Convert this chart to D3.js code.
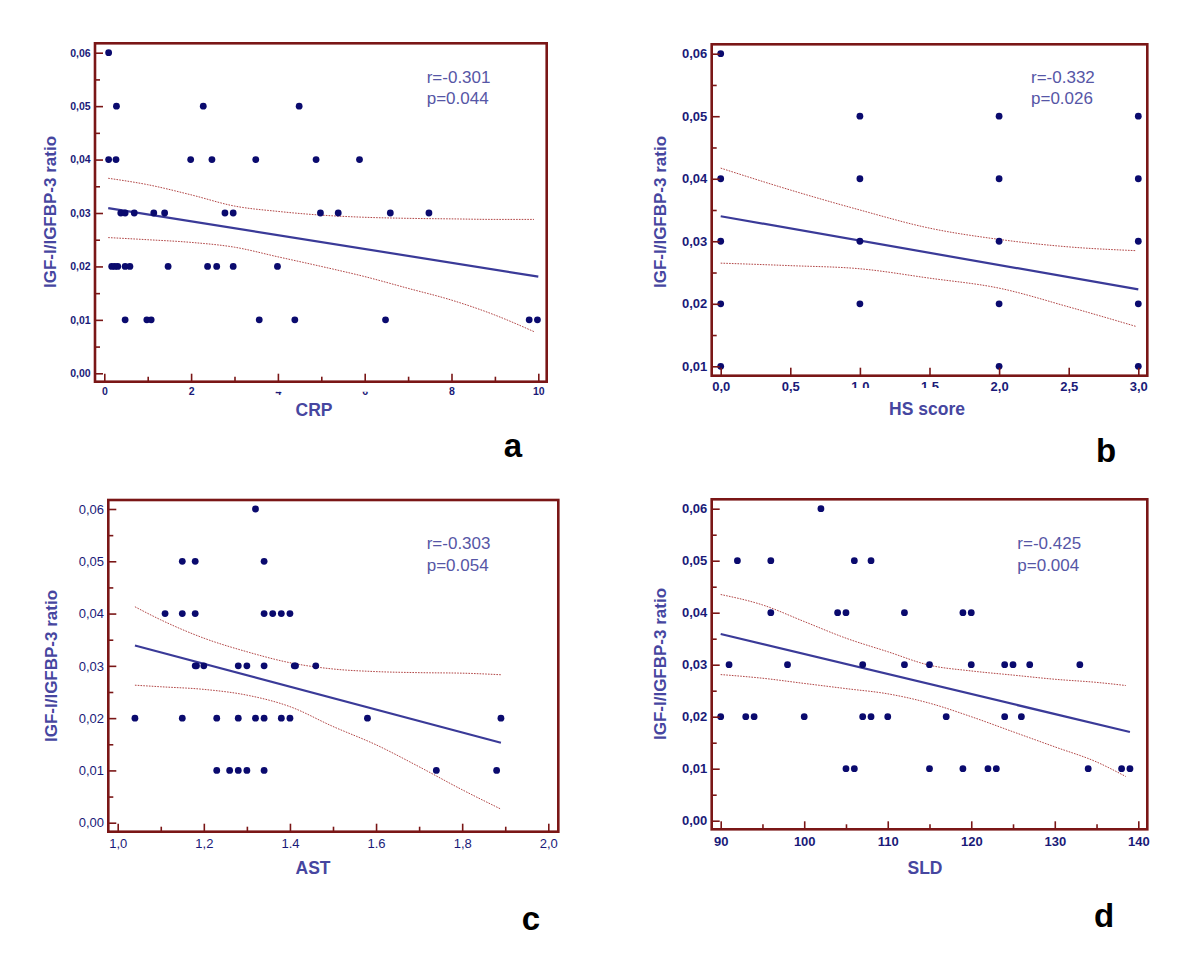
<!DOCTYPE html>
<html>
<head>
<meta charset="utf-8">
<script src="https://cdn.jsdelivr.net/npm/d3@7"></script>
<style>
  html, body { margin: 0; padding: 0; background: #fff; }
  svg { display: block; font-family: "Liberation Sans", Arial, Helvetica, sans-serif; }
</style>
</head>
<body>
<svg id="chart" width="1200" height="957"></svg>
<script>
// ---------------- DATA ----------------
const yTickValues = [0, 0.01, 0.02, 0.03, 0.04, 0.05, 0.06];
const yTickLabels = ["0,00", "0,01", "0,02", "0,03", "0,04", "0,05", "0,06"];
const yMinorValues = [0.005, 0.015, 0.025, 0.035, 0.045, 0.055];

// Panel a: CRP
const crpX = [0.1,
  0.28, 2.28, 4.49,
  0.1, 0.27, 1.99, 2.48, 3.49, 4.88, 5.88,
  0.38, 0.48, 0.69, 1.14, 1.39, 2.78, 2.97, 4.98, 5.39, 6.59, 7.48,
  0.17, 0.24, 0.31, 0.48, 0.59, 1.47, 2.38, 2.59, 2.97, 3.99,
  0.48, 0.98, 1.08, 3.57, 4.39, 6.48, 9.79, 9.98];
const crpY = [0.06,
  0.05, 0.05, 0.05,
  0.04, 0.04, 0.04, 0.04, 0.04, 0.04, 0.04,
  0.03, 0.03, 0.03, 0.03, 0.03, 0.03, 0.03, 0.03, 0.03, 0.03, 0.03,
  0.02, 0.02, 0.02, 0.02, 0.02, 0.02, 0.02, 0.02, 0.02, 0.02,
  0.01, 0.01, 0.01, 0.01, 0.01, 0.01, 0.01, 0.01];
const crpFitX = [0.09, 10];
const crpFitY = [0.0309, 0.0181];
const crpCiX = [0.09, 1, 2, 3, 4, 5, 6, 7, 8, 9, 9.9];
const crpUpper = [0.0365, 0.0353, 0.0334, 0.0313, 0.0303, 0.0296, 0.0292, 0.0290, 0.0289, 0.0288, 0.0288];
const crpLower = [0.0254, 0.0250, 0.0245, 0.0236, 0.0218, 0.0200, 0.0181, 0.0159, 0.0137, 0.0109, 0.0078];
const crpTicks = [0, 2, 4, 6, 8, 10];
const crpTickLabels = ["0", "2", "4", "6", "8", "10"];
const crpMinor = [1, 3, 5, 7, 9];

// Panel b: HS score
const hsX = [0, 0, 0, 0, 0, 1, 1, 1, 1, 2, 2, 2, 2, 2, 3, 3, 3, 3, 3];
const hsY = [0.06, 0.04, 0.03, 0.02, 0.01, 0.05, 0.04, 0.03, 0.02,
             0.05, 0.04, 0.03, 0.02, 0.01, 0.05, 0.04, 0.03, 0.02, 0.01];
const hsFitX = [0, 3];
const hsFitY = [0.0340, 0.0223];
const hsCiX = [0, 0.5, 1, 1.5, 2, 2.5, 2.98];
const hsUpper = [0.0417, 0.0382, 0.0350, 0.0321, 0.0303, 0.0291, 0.0285];
const hsLower = [0.0265, 0.0261, 0.0256, 0.0241, 0.0225, 0.0195, 0.0164];
const hsTicks = [0, 0.5, 1, 1.5, 2, 2.5, 3];
const hsTickLabels = ["0,0", "0,5", "1,0", "1,5", "2,0", "2,5", "3,0"];
const hsYTicks = [0.01, 0.02, 0.03, 0.04, 0.05, 0.06];
const hsYTickLabels = ["0,01", "0,02", "0,03", "0,04", "0,05", "0,06"];

// Panel c: AST
const astX = [1.32,
  1.15, 1.18, 1.34,
  1.11, 1.15, 1.18, 1.34, 1.36, 1.38, 1.40,
  1.18, 1.183, 1.20, 1.28, 1.30, 1.34, 1.41, 1.413, 1.46,
  1.04, 1.15, 1.23, 1.28, 1.32, 1.34, 1.38, 1.40, 1.58, 1.89,
  1.23, 1.26, 1.28, 1.30, 1.34, 1.74, 1.88];
const astY = [0.06,
  0.05, 0.05, 0.05,
  0.04, 0.04, 0.04, 0.04, 0.04, 0.04, 0.04,
  0.03, 0.03, 0.03, 0.03, 0.03, 0.03, 0.03, 0.03, 0.03,
  0.02, 0.02, 0.02, 0.02, 0.02, 0.02, 0.02, 0.02, 0.02, 0.02,
  0.01, 0.01, 0.01, 0.01, 0.01, 0.01, 0.01];
const astFitX = [1.04, 1.89];
const astFitY = [0.0339, 0.0153];
const astCiX = [1.04, 1.1, 1.2, 1.3, 1.4, 1.5, 1.6, 1.7, 1.8, 1.89];
const astUpper = [0.0413, 0.0388, 0.0353, 0.0327, 0.0306, 0.0294, 0.0289, 0.0287, 0.0286, 0.0283];
const astLower = [0.0263, 0.0260, 0.0255, 0.0244, 0.0222, 0.0184, 0.0149, 0.0107, 0.0063, 0.0026];
const astTicks = [1.0, 1.2, 1.4, 1.6, 1.8, 2.0];
const astTickLabels = ["1,0", "1,2", "1.4", "1.6", "1,8", "2,0"];
const astMinor = [1.1, 1.3, 1.5, 1.7, 1.9];

// Panel d: SLD
const sldX = [102,
  92, 96, 106, 108,
  96, 104, 105, 112, 119, 120,
  91, 98, 107, 112, 115, 120, 124, 125, 127, 133,
  90, 93, 94, 100, 107, 108, 110, 117, 124, 126,
  105, 106, 115, 119, 122, 123, 134, 138, 139];
const sldY = [0.06,
  0.05, 0.05, 0.05, 0.05,
  0.04, 0.04, 0.04, 0.04, 0.04, 0.04,
  0.03, 0.03, 0.03, 0.03, 0.03, 0.03, 0.03, 0.03, 0.03, 0.03,
  0.02, 0.02, 0.02, 0.02, 0.02, 0.02, 0.02, 0.02, 0.02, 0.02,
  0.01, 0.01, 0.01, 0.01, 0.01, 0.01, 0.01, 0.01, 0.01];
const sldFitX = [90, 139];
const sldFitY = [0.0359, 0.01705];
const sldCiX = [90, 95, 100, 105, 110, 115, 120, 125, 130, 135, 138.5];
const sldUpper = [0.0435, 0.0415, 0.0383, 0.0351, 0.0325, 0.0299, 0.0288, 0.0280, 0.0272, 0.0266, 0.0260];
const sldLower = [0.0281, 0.0274, 0.0264, 0.0254, 0.0244, 0.0226, 0.0200, 0.0171, 0.0142, 0.0113, 0.0085];
const sldTicks = [90, 100, 110, 120, 130, 140];
const sldTickLabels = ["90", "100", "110", "120", "130", "140"];
const sldMinor = [95, 105, 115, 125, 135];

const xTitles = ["CRP", "HS score", "AST", "SLD"];
const yTitle = "IGF-I/IGFBP-3 ratio";
const statR = ["r=-0.301", "r=-0.332", "r=-0.303", "r=-0.425"];
const statP = ["p=0.044", "p=0.026", "p=0.054", "p=0.004"];
const panelLetters = ["a", "b", "c", "d"];

// ---------------- LAYOUT ----------------
const FRAME = "#7a1616";
const DOT = "#0a0a6e";
const TICKTXT = "#1a1a78";
const TITLE = "#4646a0";
const STAT = "#5656a6";
const FIT = "#3a3a98";
const CI = "#a83232";

const panels = [
  { x: crpX, y: crpY, fitX: crpFitX, fitY: crpFitY, ciX: crpCiX, up: crpUpper, lo: crpLower,
    xd: [0, 10], xr: [104.3, 538.3], yd: [0, 0.06], yr: [373.3, 52.7],
    frame: [95, 43.3, 546.7, 381.7],
    xt: crpTicks, xtl: crpTickLabels, xm: crpMinor, yt: yTickValues, ytl: yTickLabels, ym: yMinorValues,
    fs: 10.5, bold: true, xpad: 5.8, ypad: 4.3,
    clipX: { labels: ["4", "6"], rect: [-20, 10, 40, 30] },
    stat: [426.7, 82.7, 104.3], xTitle: [314, 416], yTitle: [56, 212], letter: [513, 457] },
  { x: hsX, y: hsY, fitX: hsFitX, fitY: hsFitY, ciX: hsCiX, up: hsUpper, lo: hsLower,
    xd: [0, 3], xr: [720.7, 1138.3], yd: [0.01, 0.06], yr: [366.3, 53.7],
    frame: [711.7, 44.3, 1147.3, 375.7],
    xt: hsTicks, xtl: hsTickLabels, xm: [], yt: hsYTicks, ytl: hsYTickLabels, ym: yMinorValues.slice(1),
    fs: 13, bold: true, xpad: 6.3, ypad: 4.4,
    clipX: { labels: ["1,0", "1,5"], rect: [-20, -5, 40, 17.3] },
    stat: [1031, 82.7, 104.3], xTitle: [927, 415], yTitle: [666, 212], letter: [1106, 462] },
  { x: astX, y: astY, fitX: astFitX, fitY: astFitY, ciX: astCiX, up: astUpper, lo: astLower,
    xd: [1, 2], xr: [117.7, 548.3], yd: [0, 0.06], yr: [822.7, 509],
    frame: [108.3, 500, 558.3, 831.7],
    xt: astTicks, xtl: astTickLabels, xm: astMinor, yt: yTickValues, ytl: yTickLabels, ym: yMinorValues,
    fs: 13, bold: false, xpad: 7, ypad: 4.3,
    clipX: null,
    stat: [426.7, 549, 570.7], xTitle: [313, 874], yTitle: [57, 666], letter: [531, 930] },
  { x: sldX, y: sldY, fitX: sldFitX, fitY: sldFitY, ciX: sldCiX, up: sldUpper, lo: sldLower,
    xd: [90, 140], xr: [720.7, 1138.3], yd: [0, 0.06], yr: [820.7, 508.7],
    frame: [711.7, 499.3, 1147.3, 829.3],
    xt: sldTicks, xtl: sldTickLabels, xm: sldMinor, yt: yTickValues, ytl: yTickLabels, ym: yMinorValues,
    fs: 13, bold: true, xpad: 7.3, ypad: 4.4,
    clipX: null,
    stat: [1017.3, 549, 570.7], xTitle: [925, 874], yTitle: [666, 664], letter: [1104, 927] }
];

const svg = d3.select("#chart");
svg.append("rect").attr("width", 1200).attr("height", 957).attr("fill", "#fff");
const defs = svg.append("defs");

panels.forEach((p, i) => {
  const g = svg.append("g");
  const xs = d3.scaleLinear().domain(p.xd).range(p.xr);
  const ys = d3.scaleLinear().domain(p.yd).range(p.yr);
  const [fl, ft, fr, fb] = p.frame;

  // CI curves
  const ciLine = d3.line().x(d => xs(d[0])).y(d => ys(d[1])).curve(d3.curveMonotoneX);
  [p.up, p.lo].forEach(arr => {
    g.append("path")
      .attr("d", ciLine(p.ciX.map((x, k) => [x, arr[k]])))
      .attr("fill", "none").attr("stroke", CI).attr("stroke-width", 1)
      .attr("stroke-dasharray", "1.6,1.2").attr("opacity", 0.9);
  });

  // regression line
  g.append("line")
    .attr("x1", xs(p.fitX[0])).attr("y1", ys(p.fitY[0]))
    .attr("x2", xs(p.fitX[1])).attr("y2", ys(p.fitY[1]))
    .attr("stroke", FIT).attr("stroke-width", 2.2);

  // points
  g.append("g").selectAll("circle")
    .data(p.x.map((x, k) => [x, p.y[k]]))
    .join("circle")
    .attr("cx", d => xs(d[0])).attr("cy", d => ys(d[1]))
    .attr("r", 3.4).attr("fill", DOT);

  // axes
  const styleAxis = (sel) => {
    sel.select(".domain").remove();
    sel.selectAll(".tick line").attr("stroke", FRAME).attr("stroke-width", 1.6);
    sel.selectAll(".tick text")
      .attr("fill", TICKTXT)
      .attr("font-size", p.fs)
      .attr("font-weight", p.bold ? "bold" : "normal")
      .attr("font-family", '"Liberation Sans", Arial, Helvetica, sans-serif');
  };

  const yAxis = d3.axisLeft(ys).tickValues(p.yt).tickFormat((d, k) => p.ytl[k])
    .tickSize(-8).tickPadding(p.ypad);
  g.append("g").attr("transform", `translate(${fl},0)`).call(yAxis).call(styleAxis);
  const yMinor = d3.axisLeft(ys).tickValues(p.ym).tickFormat("").tickSize(-5);
  g.append("g").attr("transform", `translate(${fl},0)`).call(yMinor).call(styleAxis);

  const xAxis = d3.axisBottom(xs).tickValues(p.xt).tickFormat((d, k) => p.xtl[k])
    .tickSize(-8).tickPadding(p.xpad);
  const xg = g.append("g").attr("transform", `translate(0,${fb})`).call(xAxis).call(styleAxis);
  if (p.xm.length) {
    const xMinor = d3.axisBottom(xs).tickValues(p.xm).tickFormat("").tickSize(-5);
    g.append("g").attr("transform", `translate(0,${fb})`).call(xMinor).call(styleAxis);
  }
  if (p.clipX) {
    const id = "clipx" + i;
    const r = p.clipX.rect;
    defs.append("clipPath").attr("id", id)
      .append("rect").attr("x", r[0]).attr("y", r[1]).attr("width", r[2]).attr("height", r[3]);
    xg.selectAll(".tick text")
      .filter(function () { return p.clipX.labels.includes(d3.select(this).text()); })
      .attr("clip-path", `url(#${id})`);
  }

  // frame
  g.append("rect")
    .attr("x", fl).attr("y", ft).attr("width", fr - fl).attr("height", fb - ft)
    .attr("fill", "none").attr("stroke", FRAME).attr("stroke-width", 2.6);

  // stats text
  g.append("text").attr("x", p.stat[0]).attr("y", p.stat[1])
    .attr("fill", STAT).attr("font-size", 17).text(statR[i]);
  g.append("text").attr("x", p.stat[0]).attr("y", p.stat[2])
    .attr("fill", STAT).attr("font-size", 17).text(statP[i]);

  // axis titles
  g.append("text").attr("x", p.xTitle[0]).attr("y", p.xTitle[1])
    .attr("text-anchor", "middle").attr("fill", TITLE)
    .attr("font-size", 17.5).attr("font-weight", "bold").text(xTitles[i]);
  g.append("text")
    .attr("transform", `translate(${p.yTitle[0]},${p.yTitle[1]}) rotate(-90)`)
    .attr("text-anchor", "middle").attr("fill", TITLE)
    .attr("font-size", 17).attr("font-weight", "bold").text(yTitle);

  // panel letter
  g.append("text").attr("x", p.letter[0]).attr("y", p.letter[1])
    .attr("text-anchor", "middle").attr("fill", "#000")
    .attr("font-size", 33).attr("font-weight", "bold").text(panelLetters[i]);
});
</script>
</body>
</html>
